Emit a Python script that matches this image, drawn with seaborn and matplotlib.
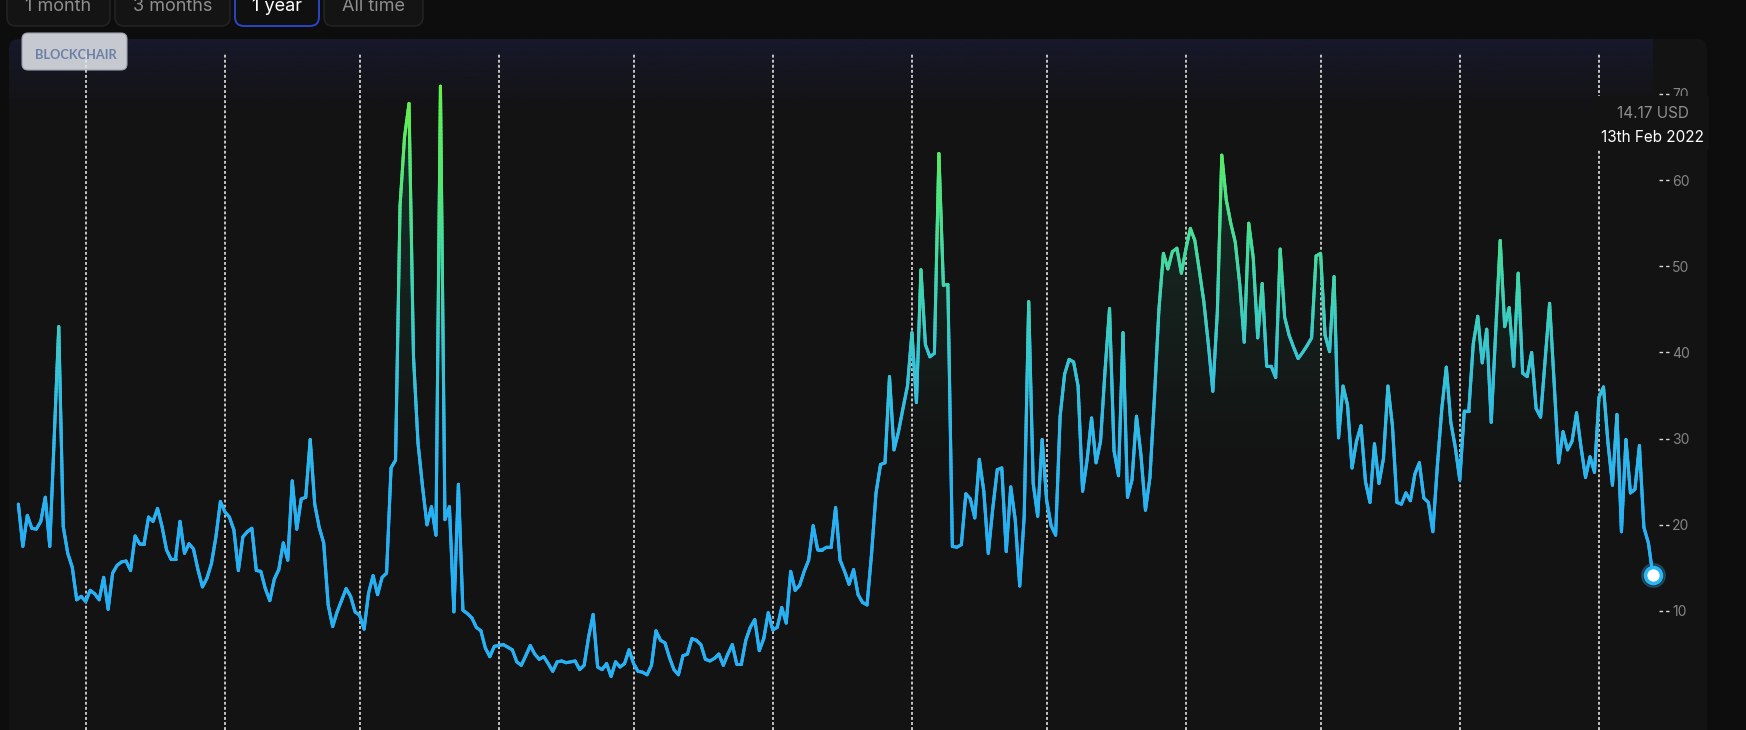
import numpy as np
import pandas as pd
import matplotlib
matplotlib.use("Agg")
import matplotlib.pyplot as plt
import seaborn as sns
import matplotlib.transforms as mtransforms
from matplotlib.collections import LineCollection
from matplotlib.colors import LinearSegmentedColormap, Normalize
from matplotlib.patches import FancyBboxPatch, Rectangle

# ---------------- data ----------------
start_date = "2021-02-14"
day_offsets = [
    0, 1, 2, 3, 4, 5, 6, 7, 9, 10, 11, 12, 13, 14, 15, 16, 17, 18, 19, 20,
    21, 22, 23, 24, 25, 26, 27, 28, 29, 30, 31, 32, 33, 34, 35, 36, 37, 38, 39, 40,
    41, 42, 43, 44, 45, 46, 47, 48, 49, 50, 51, 52, 53, 54, 55, 56, 57, 58, 59, 60,
    61, 62, 63, 64, 65, 66, 67, 68, 69, 70, 71, 73, 74, 75, 76, 77, 78, 79, 80, 81,
    82, 83, 84, 85, 86, 87, 88, 89, 90, 91, 92, 93, 94, 95, 96, 97, 98, 99, 100, 101,
    102, 103, 104, 105, 106, 107, 108, 110, 111, 112, 113, 114, 115, 116, 117, 118, 119, 120, 121, 122,
    124, 125, 126, 127, 128, 129, 130, 131, 132, 133, 134, 135, 136, 137, 138, 139, 140, 141, 142, 143,
    144, 145, 146, 147, 148, 149, 150, 151, 152, 153, 154, 155, 156, 157, 158, 159, 160, 161, 162, 163,
    164, 165, 166, 167, 168, 169, 170, 171, 172, 173, 174, 175, 176, 177, 178, 179, 180, 181, 182, 183,
    184, 185, 186, 187, 188, 189, 190, 191, 192, 193, 194, 195, 196, 197, 198, 199, 200, 201, 202, 203,
    204, 205, 206, 207, 208, 209, 210, 211, 212, 213, 214, 215, 216, 217, 218, 219, 220, 221, 222, 223,
    224, 225, 226, 227, 228, 229, 230, 231, 232, 233, 234, 235, 236, 237, 238, 239, 240, 241, 242, 243,
    244, 245, 246, 247, 248, 249, 250, 251, 252, 253, 254, 255, 256, 257, 258, 259, 260, 261, 262, 263,
    264, 265, 266, 267, 268, 269, 270, 271, 272, 273, 274, 275, 276, 277, 278, 279, 280, 281, 282, 283,
    284, 285, 286, 287, 288, 289, 290, 291, 292, 293, 294, 295, 296, 297, 298, 299, 300, 301, 302, 303,
    304, 305, 306, 307, 308, 309, 310, 311, 312, 313, 314, 315, 316, 317, 318, 319, 320, 321, 322, 323,
    324, 325, 326, 327, 328, 330, 331, 332, 333, 334, 335, 336, 337, 338, 339, 341, 342, 343, 344, 345,
    346, 347, 348, 349, 350, 351, 352, 353, 354, 355, 356, 357, 358, 359, 360, 361, 362, 363, 364,
]
fee_usd = [
    22.4, 17.5, 21.1, 19.6, 19.5, 20.4, 23.2, 17.5, 43.0, 19.8, 16.7, 15.1, 11.3, 11.7, 11.1, 12.4, 12.0, 11.3, 13.9, 10.2,
    14.4, 15.3, 15.7, 15.8, 14.7, 18.7, 17.8, 17.8, 20.9, 20.4, 21.9, 19.8, 17.1, 16.0, 16.0, 20.4, 16.7, 17.8, 17.2, 14.8,
    12.8, 13.8, 15.5, 18.6, 22.7, 21.5, 20.9, 19.4, 14.7, 18.6, 19.2, 19.6, 14.7, 14.6, 12.6, 11.2, 13.7, 14.8, 17.9, 15.9,
    25.1, 19.5, 23.0, 23.2, 29.9, 22.4, 19.7, 17.9, 10.7, 8.2, 9.9, 12.6, 11.7, 9.9, 9.5, 7.9, 12.1, 14.1, 11.9, 13.9,
    14.4, 26.6, 27.5, 57.0, 65.0, 68.9, 39.5, 29.5, 24.5, 20.0, 22.1, 18.8, 70.9, 20.6, 22.1, 9.9, 24.7, 10.1, 9.7, 9.2,
    8.1, 7.7, 5.7, 4.7, 5.9, 6.0, 6.1, 5.5, 4.1, 3.7, 4.8, 6.0, 5.0, 4.4, 4.7, 3.9, 3.0, 4.1, 4.2, 4.0,
    4.2, 3.2, 3.7, 7.0, 9.6, 3.5, 3.2, 3.9, 2.4, 4.1, 3.5, 3.9, 5.5, 3.9, 3.0, 2.9, 2.6, 3.7, 7.7, 6.6,
    6.3, 4.6, 3.2, 2.6, 4.8, 5.0, 6.8, 6.6, 6.1, 4.4, 4.2, 4.5, 5.0, 3.7, 5.0, 6.1, 3.8, 3.8, 6.6, 8.1,
    9.0, 5.4, 6.8, 9.8, 7.8, 8.1, 10.4, 8.6, 14.6, 12.4, 13.0, 14.6, 15.9, 19.9, 17.1, 17.1, 17.4, 17.4, 22.0, 15.9,
    14.6, 13.1, 14.8, 11.9, 11.0, 10.7, 16.6, 23.7, 27.0, 27.2, 37.2, 28.7, 30.8, 33.5, 36.1, 42.3, 34.2, 49.6, 40.9, 39.5,
    39.9, 63.1, 47.8, 47.9, 17.5, 17.4, 17.7, 23.6, 23.0, 20.8, 27.6, 23.9, 16.7, 21.9, 26.4, 26.6, 16.9, 24.4, 20.6, 12.9,
    21.0, 45.9, 24.8, 21.0, 29.9, 22.8, 19.9, 18.8, 32.6, 37.5, 39.2, 38.9, 36.1, 23.9, 27.5, 32.4, 27.2, 29.7, 37.9, 45.1,
    28.6, 25.7, 42.3, 23.2, 25.2, 32.6, 28.1, 21.7, 25.5, 34.8, 45.0, 51.5, 49.7, 51.7, 52.1, 49.2, 52.0, 54.4, 53.0, 49.5,
    45.9, 41.0, 35.5, 44.6, 62.9, 57.7, 55.0, 52.8, 47.9, 41.2, 55.0, 51.0, 41.7, 48.0, 38.4, 38.4, 37.1, 52.0, 44.1, 42.0,
    40.6, 39.3, 40.0, 40.8, 41.7, 51.2, 51.5, 42.0, 40.1, 48.8, 30.1, 36.1, 33.9, 26.6, 29.7, 31.5, 25.0, 22.6, 29.4, 24.8,
    27.7, 36.1, 31.5, 22.6, 22.4, 23.7, 22.8, 25.9, 27.2, 23.1, 22.6, 19.2, 26.8, 33.5, 38.3, 31.9, 29.0, 25.2, 33.2, 33.2,
    41.0, 44.2, 38.8, 42.7, 31.9, 53.0, 43.0, 45.2, 38.4, 49.2, 37.6, 37.2, 40.0, 33.5, 32.5, 45.7, 36.6, 27.2, 30.8, 28.7,
    29.7, 33.0, 29.0, 25.5, 27.9, 26.1, 34.8, 36.0, 29.5, 24.6, 32.8, 19.2, 29.9, 23.7, 24.1, 29.2, 19.7, 17.9, 14.17,
]
y_ticks = [10, 20, 30, 40, 50, 60, 70]
range_buttons = ["1 month", "3 months", "1 year", "All time"]
selected_range = "1 year"
tooltip_value = "14.17 USD"
tooltip_date = "13th Feb 2022"
brand_label = "BLOCKCHAIR"

# ---------------- figure ----------------
W, H = 1746, 730
sns.set_theme(style="dark")
plt.rcParams["font.family"] = ["Inter", "DejaVu Sans"]

fig = plt.figure(figsize=(W / 100, H / 100), dpi=100)
fig.patch.set_facecolor("#0d0d0d")
pix = mtransforms.Affine2D().scale(1, -1).translate(0, H)  # top-down pixel coords

CARD_BG = "#131313"
card = FancyBboxPatch((9, 39), 1698, 760, boxstyle="round,pad=0,rounding_size=10",
                      transform=pix, fc=CARD_BG, ec="none", zorder=-2)
fig.add_artist(card)

# range buttons (cut by the top edge)
btn_boxes = [(7, 110), (115, 230), (235, 319), (324, 423)]
for label, (x0, x1) in zip(range_buttons, btn_boxes):
    sel = label == selected_range
    b = FancyBboxPatch((x0, -25), x1 - x0, 51, boxstyle="round,pad=0,rounding_size=9",
                       transform=pix, fc="#141414" if not sel else "#101010",
                       ec="#2a46c4" if sel else "#242424", lw=1.4 if sel else 1.1, zorder=1)
    fig.add_artist(b)
    fig.text((x0 + x1) / 2, 11, label, transform=pix, ha="center", va="baseline",
             fontsize=13, color="white" if sel else "#8e8e8e", zorder=2)

# ---------------- axes / scales ----------------
AX_L, AX_R, AX_T = 9, 1653, 39
ax = fig.add_axes([AX_L / W, 0, (AX_R - AX_L) / W, 1 - AX_T / H])
ax.set_facecolor("none")
px_per_day = 4.4905
x0_day = 18.34
xlim = ((AX_L - x0_day) / px_per_day, (AX_R - x0_day) / px_per_day)
px_per_unit = 8.617
ylim = (10 - (H - 611) / px_per_unit, 10 + (611 - AX_T) / px_per_unit)

x = np.asarray(day_offsets, float)
y = np.asarray(fee_usd, float)

# top navy tint
navy = np.zeros((64, 1, 4))
t = np.linspace(0, 1, 64)
navy[..., 0], navy[..., 1], navy[..., 2] = 24 / 255, 25 / 255, 46 / 255
navy[:, 0, 3] = 0.9 * t ** 1.2
y_navy0 = 10 + (611 - 118) / px_per_unit
im_navy = ax.imshow(navy, extent=[xlim[0], xlim[1], y_navy0, ylim[1]], origin="lower",
                    aspect="auto", zorder=0.5, interpolation="bilinear")
im_navy.set_clip_path(card)

# brand badge
badge = FancyBboxPatch((22, 33), 105, 37, boxstyle="round,pad=0,rounding_size=6",
                       transform=pix, fc="#c6c9d0", ec="#9aa0aa", lw=0.8, zorder=0.8, clip_on=False)
ax.add_artist(badge)
ax.text(75.5, 55, brand_label, transform=pix, ha="center", va="center", fontsize=9.2,
        fontweight="bold", color="#6b80a6", zorder=0.9, family=["Lato", "DejaVu Sans"])

# soft area fill under line
poly = ax.fill_between(x, y, ylim[0], facecolor="none", edgecolor="none")
g = np.zeros((256, 1, 4))
yy = np.linspace(ylim[0], ylim[1], 256)
g[..., 0], g[..., 1], g[..., 2] = 50 / 255, 205 / 255, 150 / 255
g[:, 0, 3] = 0.13 * np.clip((yy - 27) / (60 - 27), 0, 1)
im_fill = ax.imshow(g, extent=[xlim[0], xlim[1], ylim[0], ylim[1]], origin="lower",
                    aspect="auto", zorder=1, interpolation="bilinear")
im_fill.set_clip_path(poly.get_paths()[0], transform=ax.transData)

# month separators
month_starts = pd.date_range("2021-03-01", "2022-02-01", freq="MS")
month_days = (month_starts - pd.Timestamp(start_date)).days
ax.vlines(month_days, ylim[0], 10 + (611 - 53) / px_per_unit, colors="#e6e6e6",
          linestyles=(0, (1.6, 1.2)), lw=1.3, alpha=0.9, zorder=2)

# base line (seaborn) + value gradient overlay
sns.lineplot(x=x, y=y, ax=ax, color="#2bb3f3", linewidth=2.2, zorder=3)
cmap = LinearSegmentedColormap.from_list("fee", [
    (0.0, "#27b1f4"), (0.2, "#2fb9ec"), (0.4, "#38c7cf"), (0.6, "#43d9a0"),
    (0.8, "#53e872"), (1.0, "#64f244")])
norm = Normalize(20, 70)
pts = []
for i in range(len(x) - 1):
    n = max(1, int(np.ceil(abs(y[i + 1] - y[i]) / 0.4)))
    tt = np.linspace(0, 1, n + 1)[:-1]
    pts.append(np.column_stack([x[i] + (x[i + 1] - x[i]) * tt, y[i] + (y[i + 1] - y[i]) * tt]))
pts.append(np.array([[x[-1], y[-1]]]))
P = np.vstack(pts)
segs = np.stack([P[:-1], P[1:]], axis=1)
mid = (P[:-1, 1] + P[1:, 1]) / 2
lc = LineCollection(segs, colors=cmap(norm(mid)), linewidths=2.2, capstyle="round",
                    joinstyle="round", zorder=4, clip_on=False)
ax.add_collection(lc)

# last point marker
ax.plot([x[-1]], [y[-1]], "o", ms=17, color="#2cb6f4", alpha=0.25, zorder=5, clip_on=False)
ax.plot([x[-1]], [y[-1]], "o", ms=11.5, mfc="white", mec="#2cb6f4", mew=2.6, zorder=6, clip_on=False)

ax.set_xlim(*xlim)
ax.set_ylim(*ylim)
ax.set_xlabel("")
ax.set_ylabel("")
ax.set_xticks([])
ax.grid(False)
for s in ax.spines.values():
    s.set_visible(False)

# right y axis labels with dashed tick marks
ax.yaxis.set_ticks_position("right")
ax.set_yticks(y_ticks)
ax.set_yticklabels([str(v) for v in y_ticks])
ax.tick_params(axis="y", length=0, pad=13.7, labelsize=10, labelcolor="#858585",
               labelright=True, labelleft=False)
blend = mtransforms.blended_transform_factory(ax.transAxes, ax.transData)
wax = AX_R - AX_L
for v in y_ticks:
    ax.plot([(1659 - AX_L) / wax, (1669 - AX_L) / wax], [v, v], transform=blend, color="#d8d8d8",
            lw=1.0, ls=(0, (2.6, 2.2)), clip_on=False, zorder=2)

# tooltip box
fig.add_artist(Rectangle((1597, 96), 112, 53, transform=pix, fc=CARD_BG, ec="none", zorder=5))
fig.text(1652.5, 114, tooltip_value, transform=pix, ha="center", va="center",
         fontsize=11, color="#8f8f8f", zorder=6)
fig.text(1652.5, 137, tooltip_date, transform=pix, ha="center", va="center",
         fontsize=11, color="white", zorder=6)

fig.savefig("out.png", dpi=100, facecolor=fig.get_facecolor())
